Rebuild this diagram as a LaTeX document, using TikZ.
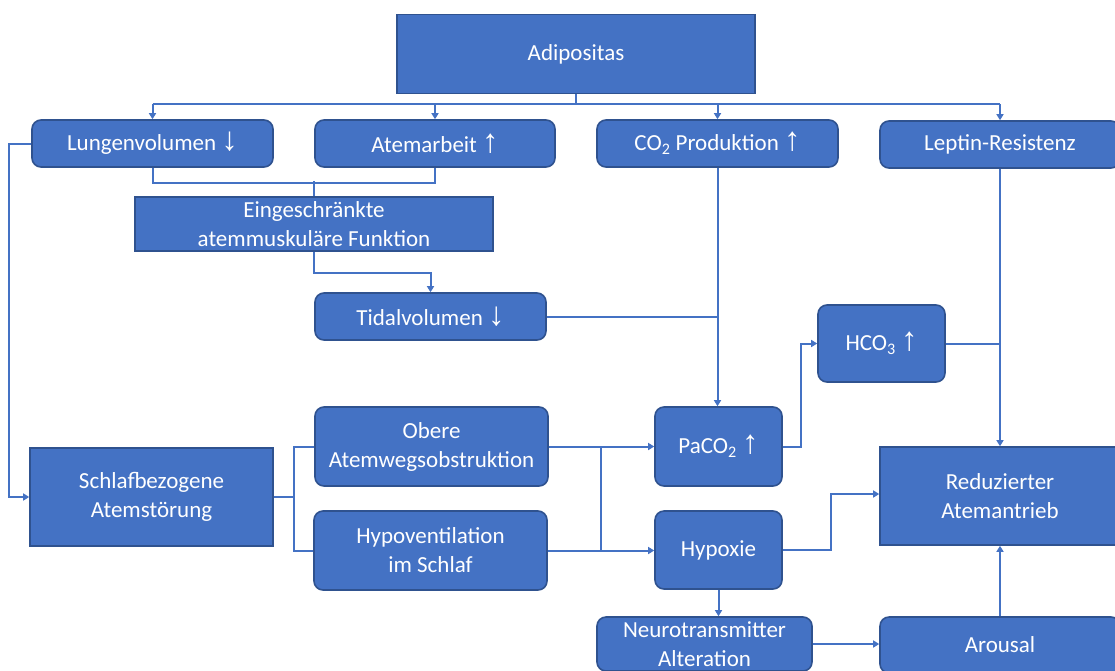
\documentclass[tikz,border=0pt]{standalone}
\usepackage{fontspec}
\setmainfont{Carlito}
\newfontfamily\arrowfont{Liberation Sans}
\usetikzlibrary{arrows.meta}
\definecolor{boxfill}{HTML}{4472C4}
\definecolor{boxedge}{HTML}{2F528F}
\definecolor{linkcol}{HTML}{4472C4}
\newcommand\up{ {\arrowfont\fontsize{33}{29}\selectfont\char"2191}}
\newcommand\down{ {\arrowfont\fontsize{33}{29}\selectfont\char"2193}}
\tikzset{
  box/.style={draw=boxedge, fill=boxfill, line width=1.6pt, text=white,
    align=center, inner sep=0pt, font=\fontsize{23}{29}\selectfont},
  rbox/.style={box, rounded corners=9pt},
  link/.style={draw=linkcol, line width=2pt},
  arrow/.style={link, -{Triangle[width=7pt,length=6pt]}},
}
\begin{document}
\begin{tikzpicture}[x=1pt,y=-1pt]
\useasboundingbox (0,0) rectangle (1115,670);
% boxes
\node[box, minimum width=358pt, minimum height=79pt] (adip) at (576,54) {Adipositas};
\node[rbox, minimum width=241pt, minimum height=47pt] (lung) at (152.5,143.5) {Lungenvolumen\down};
\node[rbox, minimum width=240pt, minimum height=47pt] (atem) at (435,143.5) {Atemarbeit\up};
\node[rbox, minimum width=241pt, minimum height=47pt] (co2) at (717.5,143.5) {CO\textsubscript{2} Produktion\up};
\node[rbox, minimum width=240pt, minimum height=47pt] (lep) at (1000,144.5) {Leptin-Resistenz};
\node[box, minimum width=358pt, minimum height=54pt] (eing) at (314,224) {Eingeschränkte\\atemmuskuläre Funktion};
\node[rbox, minimum width=231pt, minimum height=47pt] (tidal) at (430.5,316.5) {Tidalvolumen\down};
\node[rbox, minimum width=127pt, minimum height=77pt] (hco) at (881.5,343.5) {HCO\textsubscript{3}\up};
\node[box, minimum width=243pt, minimum height=98pt] (schlaf) at (151.5,497) {Schlafbezogene\\Atemstörung};
\node[rbox, minimum width=233pt, minimum height=79pt] (obere) at (431.5,446.5) {Obere\\Atemwegsobstruktion};
\node[rbox, minimum width=233pt, minimum height=79pt] (hypov) at (430.5,550.5) {Hypoventilation\\im Schlaf};
\node[rbox, minimum width=127pt, minimum height=79pt] (paco) at (718.5,446.5) {PaCO\textsubscript{2}\up};
\node[rbox, minimum width=127pt, minimum height=78pt] (hypox) at (718.5,550) {Hypoxie};
\node[box, minimum width=240pt, minimum height=98pt] (redu) at (1000,496) {Reduzierter\\Atemantrieb};
\node[rbox, minimum width=215pt, minimum height=54pt] (neuro) at (704.5,644) {Neurotransmitter\\Alteration};
\node[rbox, minimum width=240pt, minimum height=56pt] (arous) at (1000,645) {Arousal};
% distribution from Adipositas
\draw[link] (adip.south) -- ++(0,10) coordinate (bus);
\draw[link] (lung.north |- bus) -- (lep.north |- bus);
\draw[arrow] (lung.north |- bus) -- (lung.north);
\draw[arrow] (atem.north |- bus) -- (atem.north);
\draw[arrow] (co2.north |- bus) -- (co2.north);
\draw[arrow] (lep.north |- bus) -- (lep.north);
% lung volume and work of breathing
\draw[link] (lung.south) -- ++(0,15) -| (atem.south);
\draw[link] (eing.north) -- ++(0,-15);
\draw[arrow] (eing.south) -- ++(0,21) -| (tidal.north);
\draw[arrow] (lung.west) -- ++(-22,0) |- (schlaf.west);
% CO2 branch
\draw[link] (tidal.east) -- (tidal.east -| co2.south);
\draw[arrow] (co2.south) -- (co2.south |- paco.north);
\draw[arrow] (lep.south) -- (redu.north);
\draw[link] (hco.east) -- (hco.east -| lep.south);
\draw[arrow] (paco.east) -- ++(18,0) |- (hco.west);
% sleep-related breathing disorder
\draw[link] (schlaf.east) -- ++(20,0) coordinate (s1);
\draw[link] (obere.west) -| (s1) |- (hypov.west);
\draw[arrow] (obere.east) -- (paco.west);
\draw[arrow] (hypov.east) -- (hypov.east -| hypox.west);
\draw[link] ([xshift=52pt]obere.east) -- ([xshift=52pt]obere.east |- hypov.east);
% hypoxia and arousal
\draw[arrow] (hypox.east) -- ++(48,0) |- ([yshift=2pt]redu.west);
\draw[arrow] (hypox.south) -- (hypox.south |- neuro.north);
\draw[arrow] (neuro.east) -- (neuro.east -| arous.west);
\draw[arrow] (arous.north) -- (redu.south);
\end{tikzpicture}
\end{document}
